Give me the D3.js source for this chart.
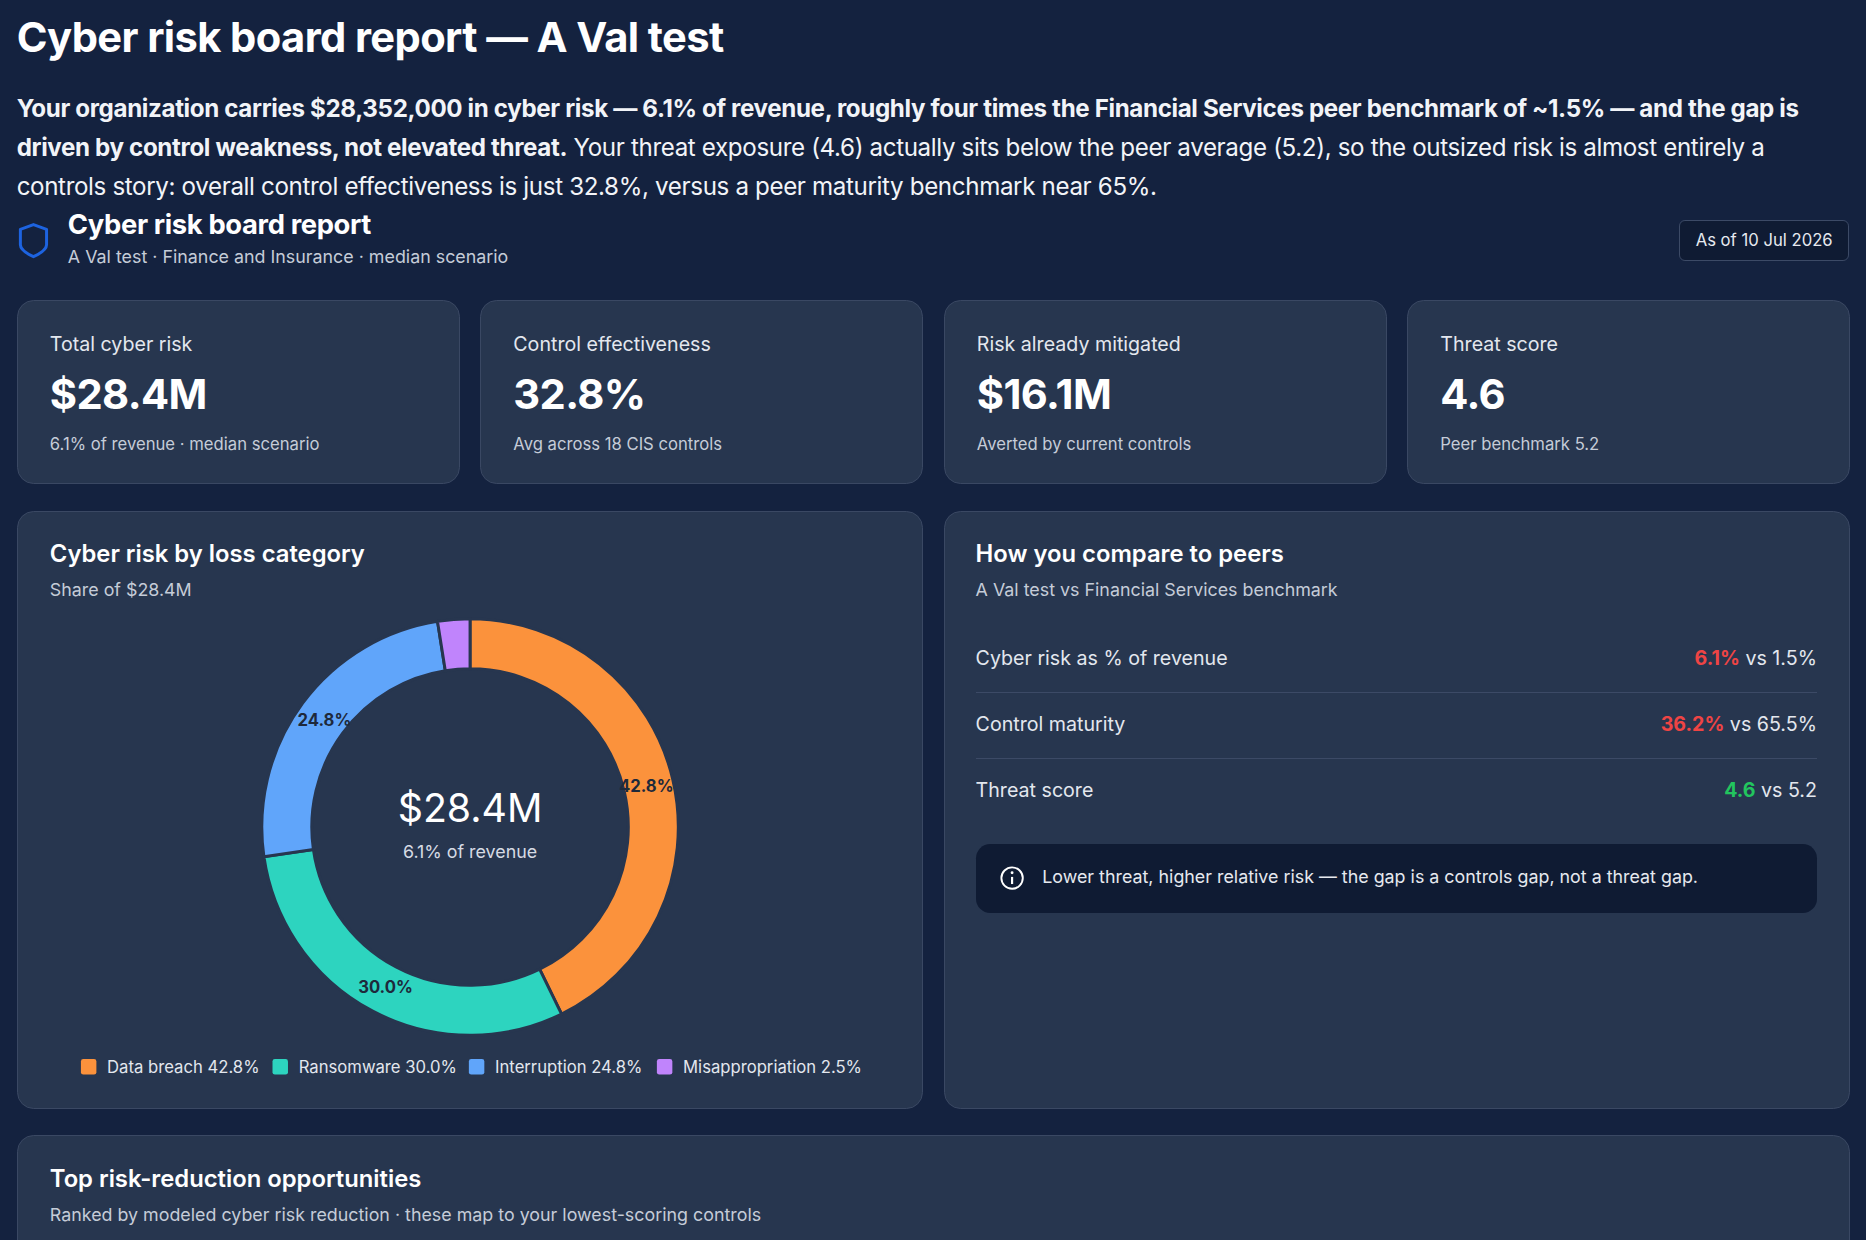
<!DOCTYPE html>
<html><head><meta charset="utf-8">
<script src="https://cdn.jsdelivr.net/npm/d3@7"></script>
<style>
html,body{margin:0;background:#14223f;}
body{zoom:1.19;width:1568px;height:1042px;overflow:hidden;font-family:Inter,"Noto Sans",sans-serif;color:#fff;position:relative;}
.abs{position:absolute;}
.card{position:absolute;background:#27364f;border:1px solid #3a4863;border-radius:14px;box-sizing:border-box;}
.lbl{color:#e3e7ee;font-size:16.5px;}
.sub{color:#c5ccd8;font-size:14px;}
</style></head><body>
<div class="abs" style="left:14px;top:10px;font-size:35px;font-weight:700;letter-spacing:-0.5px">Cyber risk board report — A Val test</div>
<div class="abs" style="left:14px;top:76px;width:1540px;font-size:20.3px;line-height:32.5px;color:#f2f4f8;letter-spacing:-0.3px"><b>Your organization carries $28,352,000 in cyber risk — 6.1% of revenue, roughly four times the Financial Services peer benchmark of ~1.5% — and the gap is driven by control weakness, not elevated threat.</b> Your threat exposure (4.6) actually sits below the peer average (5.2), so the outsized risk is almost entirely a controls story: overall control effectiveness is just 32.8%, versus a peer maturity benchmark near 65%.</div>
<svg class="abs" style="left:15px;top:186px" width="28" height="32"><path d="M13 3 L24 7 L24 20 Q24 25 13 30 Q2 25 2 20 L2 7 Z" fill="none" stroke="#1d63e0" stroke-width="2.5" stroke-linejoin="round"/></svg>
<div class="abs" style="left:57px;top:174px;font-size:23px;font-weight:700;letter-spacing:-0.3px">Cyber risk board report</div>
<div class="abs sub" style="left:57px;top:207px;font-size:15px">A Val test · Finance and Insurance · median scenario</div>
<div class="abs" style="left:1411px;top:185px;width:143px;height:34px;border:1px solid #3c4a66;border-radius:5px;box-sizing:border-box;background:#0f1b33;font-size:14px;line-height:32px;text-align:center;color:#e6e9ef">As of 10 Jul 2026</div>
<div id="kpis"></div>
<div class="card" style="left:14px;top:429px;width:762px;height:503px">
 <div class="abs" style="left:27px;top:23px;font-size:20px;font-weight:600">Cyber risk by loss category</div>
 <div class="abs sub" style="left:27px;top:57px;font-size:15px">Share of $28.4M</div>
</div>
<div class="card" style="left:793px;top:429px;width:762px;height:503px">
 <div class="abs" style="left:26px;top:23px;font-size:20px;font-weight:600">How you compare to peers</div>
 <div class="abs sub" style="left:26px;top:57px;font-size:15px">A Val test vs Financial Services benchmark</div>
 <div id="peers"></div>
 <div class="abs" style="left:26px;top:279px;width:707px;height:58px;background:#0f1b33;border-radius:12px">
  <svg class="abs" style="left:20px;top:18px" width="22" height="22"><circle cx="11" cy="11" r="9" fill="none" stroke="#fff" stroke-width="1.6"/><line x1="11" y1="10" x2="11" y2="16" stroke="#fff" stroke-width="1.8"/><circle cx="11" cy="6.5" r="1.2" fill="#fff"/></svg>
  <div class="abs" style="left:56px;top:19px;font-size:15px;color:#e6e9ef">Lower threat, higher relative risk — the gap is a controls gap, not a threat gap.</div>
 </div>
</div>
<div class="card" style="left:14px;top:954px;width:1541px;height:120px">
 <div class="abs" style="left:27px;top:23px;font-size:20px;font-weight:600">Top risk-reduction opportunities</div>
 <div class="abs sub" style="left:27px;top:57px;font-size:15px">Ranked by modeled cyber risk reduction · these map to your lowest-scoring controls</div>
</div>
<svg id="donut" class="abs" style="left:0;top:0" width="1568" height="1042"></svg>
<script>
const kpiLabels=["Total cyber risk","Control effectiveness","Risk already mitigated","Threat score"];
const kpiValues=["$28.4M","32.8%","$16.1M","4.6"];
const kpiSubs=["6.1% of revenue · median scenario","Avg across 18 CIS controls","Averted by current controls","Peer benchmark 5.2"];
const categories=["Data breach","Ransomware","Interruption","Misappropriation"];
const shares=[42.8,30.0,24.8,2.5];
const colors=["#fb923c","#2dd4bf","#60a5fa","#c084fc"];
const peerLabels=["Cyber risk as % of revenue","Control maturity","Threat score"];
const peerYou=["6.1%","36.2%","4.6"];
const peerBench=["1.5%","65.5%","5.2"];
const peerColor=["#ef4444","#ef4444","#22c55e"];

const kx=d3.scaleBand().domain(d3.range(4)).range([14,1572]).paddingInner(0.0);
d3.select("#kpis").selectAll("div").data(kpiLabels).join("div").attr("class","card")
 .style("left",(d,i)=>kx(i)+"px").style("top","252px").style("width",(kx.bandwidth()-17)+"px").style("height","155px")
 .html((d,i)=>`<div class="abs lbl" style="left:27px;top:26px">${d}</div><div class="abs" style="left:27px;top:57px;font-size:35px;font-weight:700;letter-spacing:-0.5px">${kpiValues[i]}</div><div class="abs sub" style="left:27px;top:112px">${kpiSubs[i]}</div>`);

const py=d3.scalePoint().domain(d3.range(3)).range([124,235]);
d3.select("#peers").selectAll("div.row").data(peerLabels).join("div").attr("class","abs row")
 .style("left","26px").style("width","707px").style("top",(d,i)=>py(i)-14+"px").style("height","28px")
 .html((d,i)=>`<span class="lbl" style="position:absolute;left:0;top:3px">${d}</span><span style="position:absolute;right:0;top:3px;font-size:16.5px;color:#e3e7ee"><b style="color:${peerColor[i]};font-weight:700">${peerYou[i]}</b> vs ${peerBench[i]}</span>`);
d3.select("#peers").selectAll("div.sep").data([0,1]).join("div").attr("class","abs sep")
 .style("left","26px").style("width","707px").style("top",i=>(py(i)+py(i+1))/2+"px").style("height","1px").style("background","#3c4a66");

const svg=d3.select("#donut");
const g=svg.append("g").attr("transform","translate(395,695)");
const pie=d3.pie().sort(null).value(d=>d)(shares);
const arc=d3.arc().innerRadius(133).outerRadius(175);
g.selectAll("path").data(pie).join("path").attr("d",arc).attr("fill",(d,i)=>colors[i]).attr("stroke","#27364f").attr("stroke-width",2.5);
const la=d3.arc().innerRadius(152).outerRadius(152);
g.selectAll("text.p").data(pie.slice(0,3)).join("text").attr("class","p")
 .attr("transform",d=>`translate(${la.centroid(d)})`).attr("text-anchor","middle").attr("dy","0.35em")
 .attr("font-size",14).attr("font-weight",700).attr("fill","#1e293b").text((d,i)=>shares[i].toFixed(1)+"%");
g.append("text").attr("text-anchor","middle").attr("y",-4).attr("font-size",33).attr("fill","#fff").text("$28.4M");
g.append("text").attr("text-anchor","middle").attr("y",26).attr("font-size",15).attr("fill","#d6dbe4").text("6.1% of revenue");
const lx=[68,229,394,552];
const lg=svg.selectAll("g.lg").data(categories).join("g").attr("class","lg").attr("transform",(d,i)=>`translate(${lx[i]},897)`);
lg.append("rect").attr("y",-7).attr("width",13).attr("height",13).attr("rx",2).attr("fill",(d,i)=>colors[i]);
lg.append("text").attr("x",22).attr("dy","0.35em").attr("font-size",14).attr("fill","#e3e7ee").text((d,i)=>`${d} ${shares[i].toFixed(1)}%`);
</script>
</body></html>
